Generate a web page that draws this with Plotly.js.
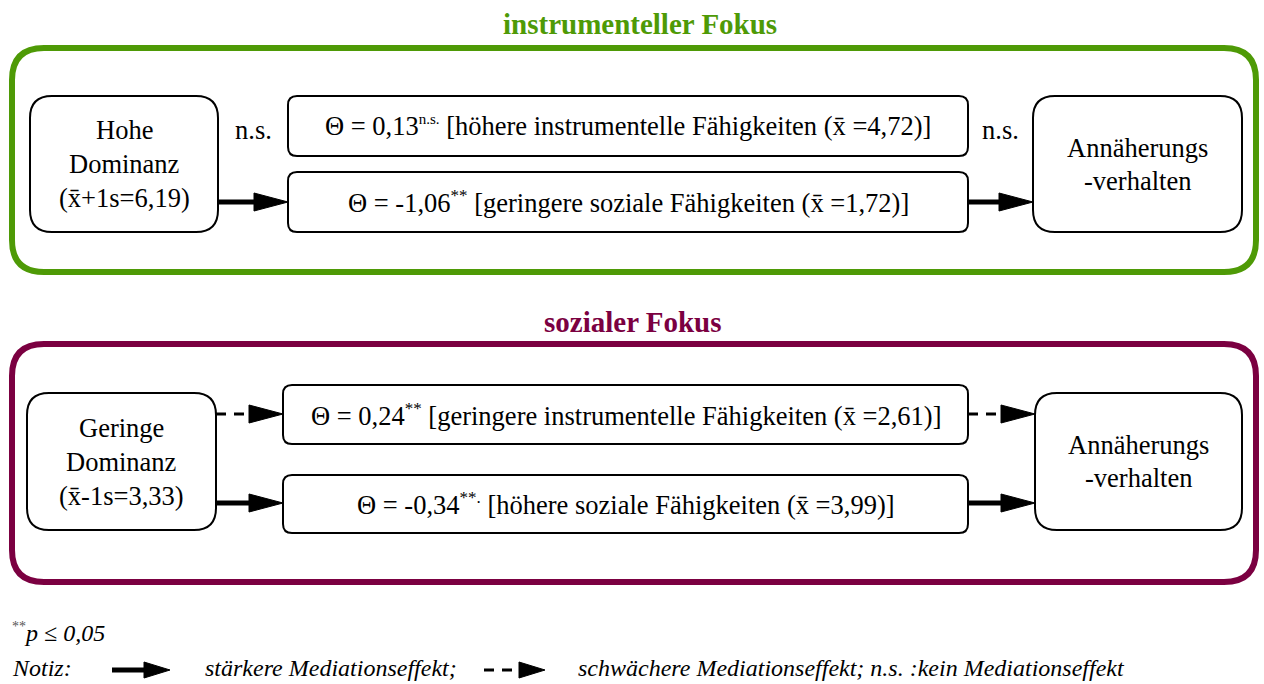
<!DOCTYPE html>
<html>
<head>
<meta charset="utf-8">
<script src="https://cdn.plot.ly/plotly-3.0.1.min.js"></script>
<style>html,body{margin:0;padding:0;background:#fff;}#chart{width:1264px;height:684px;}</style>
</head>
<body>
<div id="chart"></div>
<script>
// ---- data ----
const groupTitles = ['instrumenteller Fokus', 'sozialer Fokus'];
const predictorLines = [['Hohe', 'Dominanz', '(x\u0304+1s=6,19)'], ['Geringe', 'Dominanz', '(x\u0304-1s=3,33)']];
const thetaValues = [['0,13', '-1,06'], ['0,24', '-0,34']];
const thetaSig = [['n.s.', '**'], ['**', '**.']];
const mediatorNames = [['höhere instrumentelle Fähigkeiten', 'geringere soziale Fähigkeiten'],
                       ['geringere instrumentelle Fähigkeiten', 'höhere soziale Fähigkeiten']];
const mediatorMeans = [['4,72', '1,72'], ['2,61', '3,99']];
const pathTypes = [['none', 'strong'], ['weak', 'strong']];
const outcomeLines = ['Annäherungs', '-verhalten'];
const footSig = '**';
const footP = 'p ≤ 0,05';
const noteLabel = 'Notiz:';
const noteStrong = 'stärkere Mediationseffekt;';
const noteWeak = 'schwächere Mediationseffekt; n.s. :kein Mediationseffekt';

// ---- layout geometry ----
const groupColors = ['#4e9a06', '#7b0041'];
const G = [
  {title: 24, outer: [12, 48, 1256, 272], pred: [30, 96, 218, 232], med: [[288, 96, 968, 156], [288, 172, 968, 232]], out: [1033, 96, 1242, 232], arrowY: [130, 202]},
  {title: 322, outer: [12, 344, 1256, 582], pred: [27, 393, 216, 530], med: [[283, 385, 968, 444], [283, 475, 968, 533]], out: [1035, 393, 1242, 530], arrowY: [414, 503]}
];
const FONT = 'Liberation Serif';
const MAIN = 26.5;
const shapes = [];
const annotations = [];

function rr(x0, y0, x1, y1, r) {
  return `M${x0 + r},${y0} L${x1 - r},${y0} Q${x1},${y0} ${x1},${y0 + r} L${x1},${y1 - r} Q${x1},${y1} ${x1 - r},${y1} L${x0 + r},${y1} Q${x0},${y1} ${x0},${y1 - r} L${x0},${y0 + r} Q${x0},${y0} ${x0 + r},${y0} Z`;
}
function box(b, r, color, w) {
  shapes.push({type: 'path', xref: 'x', yref: 'y', path: rr(b[0], b[1], b[2], b[3], r), line: {color: color, width: w}, fillcolor: 'rgba(0,0,0,0)'});
}
function arrow(x0, x1, y, kind, headL, headH, lw) {
  if (kind === 'none') return;
  const dash = kind === 'weak';
  shapes.push({type: 'line', xref: 'x', yref: 'y', x0: x0, x1: x1 - headL + 2, y0: y, y1: y,
    line: {color: '#000', width: dash ? 3 : lw, dash: dash ? '10px,8px' : 'solid'}});
  shapes.push({type: 'path', xref: 'x', yref: 'y', path: `M${x1 - headL},${y - headH} L${x1},${y} L${x1 - headL},${y + headH} Z`,
    fillcolor: '#000', line: {color: '#000', width: 1}});
}
function txt(x, y, text, size, opts) {
  annotations.push(Object.assign({xref: 'x', yref: 'y', x: x, y: y, text: text, showarrow: false, borderpad: 0,
    font: {family: FONT, size: size, color: '#000'}, xanchor: 'center', yanchor: 'middle'}, opts || {}));
}
function small(s, px) { return `<sup><span style="font-size:${px}px">${s}</span></sup>`; }

G.forEach((g, i) => {
  txt(633 + (i === 0 ? 7 : 0), g.title, '<b>' + groupTitles[i] + '</b>', 29, {font: {family: FONT, size: 29, color: groupColors[i]}});
  box(g.outer, 32, groupColors[i], 6);
  box(g.pred, 22, '#000', 2);
  box(g.out, 22, '#000', 2);
  const pcx = (g.pred[0] + g.pred[2]) / 2, pcy = (g.pred[1] + g.pred[3]) / 2;
  predictorLines[i].forEach((l, k) => txt(pcx, pcy + (k - 1) * 34, l, MAIN));
  const ocx = (g.out[0] + g.out[2]) / 2, ocy = (g.out[1] + g.out[3]) / 2;
  outcomeLines.forEach((l, k) => txt(ocx, ocy + (k - 0.5) * 33, l, MAIN));
  g.med.forEach((m, j) => {
    box(m, 9, '#000', 2);
    const sig = thetaSig[i][j];
    const t = `Θ = ${thetaValues[i][j]}${small(sig, sig === 'n.s.' ? 15 : 17)} [${mediatorNames[i][j]} (x\u0304 =${mediatorMeans[i][j]})]`;
    txt((m[0] + m[2]) / 2, (m[1] + m[3]) / 2, t, MAIN);
    const kind = pathTypes[i][j];
    const y = g.arrowY[j];
    if (kind === 'none') {
      txt((g.pred[2] + m[0]) / 2, y, sig, MAIN);
      txt((m[2] + g.out[0]) / 2, y, sig, MAIN);
    } else {
      arrow(g.pred[2], m[0], y, kind, 34, 9, 5);
      arrow(m[2], g.out[0], y, kind, 34, 9, 5);
    }
  });
});

// footnote
txt(11, 632, `<span style="color:#555">${small(footSig, 14)}</span><i>${footP}</i>`, 24, {xanchor: 'left'});
txt(11, 668, '<i>' + noteLabel + '</i>', 24, {xanchor: 'left'});
arrow(112, 170, 670, 'strong', 26, 8, 5);
txt(204, 668, '<i>' + noteStrong + '</i>', 24, {xanchor: 'left'});
arrow(484, 545, 670, 'weak', 26, 8, 5);
txt(577, 668, '<i>' + noteWeak + '</i>', 24, {xanchor: 'left'});

const layout = {
  width: 1264, height: 684, margin: {l: 0, r: 0, t: 0, b: 0},
  font: {family: FONT},
  paper_bgcolor: '#fff', plot_bgcolor: '#fff', showlegend: false,
  xaxis: {range: [0, 1264], visible: false, fixedrange: true},
  yaxis: {range: [684, 0], visible: false, fixedrange: true},
  shapes: shapes, annotations: annotations
};
Plotly.newPlot('chart', [{x: [], y: [], type: 'scatter'}], layout, {staticPlot: true, displayModeBar: false});
</script>
</body>
</html>
